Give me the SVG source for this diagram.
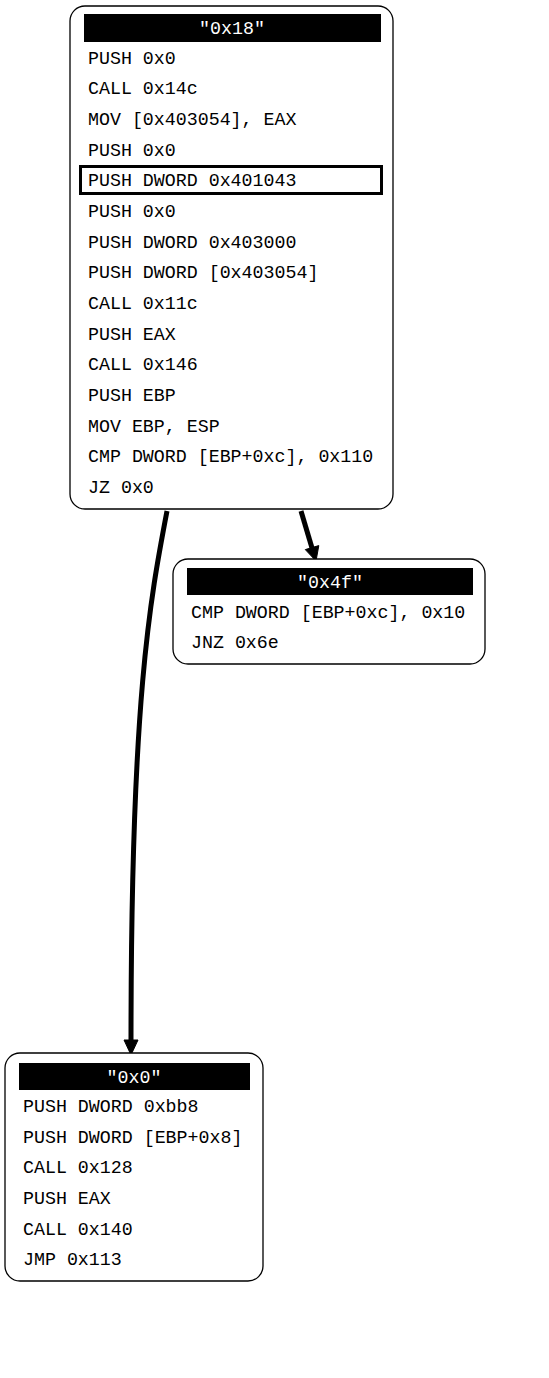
<svg xmlns="http://www.w3.org/2000/svg" width="549" height="1378" viewBox="0 0 549 1378">
<style>
.box{fill:#fff;stroke:#000;stroke-width:1.3}
.hdr{fill:#000}
.t{font-family:"Liberation Mono","Courier New",monospace;font-size:18.3px;fill:#000}
.h{font-family:"Liberation Mono","Courier New",monospace;font-size:18.3px;fill:#fff;text-anchor:middle}
.e{fill:none;stroke:#000;stroke-width:5}
.ah{fill:#000;stroke:#000;stroke-width:1}
</style>
<rect width="549" height="1378" fill="#fff"/>
<g id="edges">
<path class="e" d="M167,511 C150,600 131,700 131,1042"/>
<polygon class="ah" points="124,1040 138,1040 131,1055"/>
<path class="e" d="M301,511 L312,548"/>
<polygon class="ah" points="318.8,545.6 305.3,549.6 316,561"/>
</g>
<g id="n0x18">
<rect class="box" x="70" y="6" width="323" height="503" rx="15"/>
<rect class="hdr" x="84" y="14" width="297" height="28"/>
<text class="h" x="232" y="34">"0x18"</text>
<text class="t" x="88" y="64">PUSH 0x0</text>
<text class="t" x="88" y="94">CALL 0x14c</text>
<text class="t" x="88" y="125">MOV [0x403054], EAX</text>
<text class="t" x="88" y="156">PUSH 0x0</text>
<rect x="80.5" y="166.5" width="301" height="27" fill="none" stroke="#000" stroke-width="3"/>
<text class="t" x="88" y="186">PUSH DWORD 0x401043</text>
<text class="t" x="88" y="217">PUSH 0x0</text>
<text class="t" x="88" y="248">PUSH DWORD 0x403000</text>
<text class="t" x="88" y="278">PUSH DWORD [0x403054]</text>
<text class="t" x="88" y="309">CALL 0x11c</text>
<text class="t" x="88" y="340">PUSH EAX</text>
<text class="t" x="88" y="370">CALL 0x146</text>
<text class="t" x="88" y="401">PUSH EBP</text>
<text class="t" x="88" y="432">MOV EBP, ESP</text>
<text class="t" x="88" y="462">CMP DWORD [EBP+0xc], 0x110</text>
<text class="t" x="88" y="493">JZ 0x0</text>
</g>
<g id="n0x4f">
<rect class="box" x="173" y="559" width="312" height="105" rx="15"/>
<rect class="hdr" x="187" y="568" width="286" height="27"/>
<text class="h" x="330" y="588">"0x4f"</text>
<text class="t" x="191" y="618">CMP DWORD [EBP+0xc], 0x10</text>
<text class="t" x="191" y="648">JNZ 0x6e</text>
</g>
<g id="n0x0">
<rect class="box" x="5" y="1053" width="258" height="228" rx="15"/>
<rect class="hdr" x="19" y="1063" width="231" height="27"/>
<text class="h" x="134" y="1083">"0x0"</text>
<text class="t" x="23" y="1112">PUSH DWORD 0xbb8</text>
<text class="t" x="23" y="1143">PUSH DWORD [EBP+0x8]</text>
<text class="t" x="23" y="1173">CALL 0x128</text>
<text class="t" x="23" y="1204">PUSH EAX</text>
<text class="t" x="23" y="1235">CALL 0x140</text>
<text class="t" x="23" y="1265">JMP 0x113</text>
</g>
</svg>
